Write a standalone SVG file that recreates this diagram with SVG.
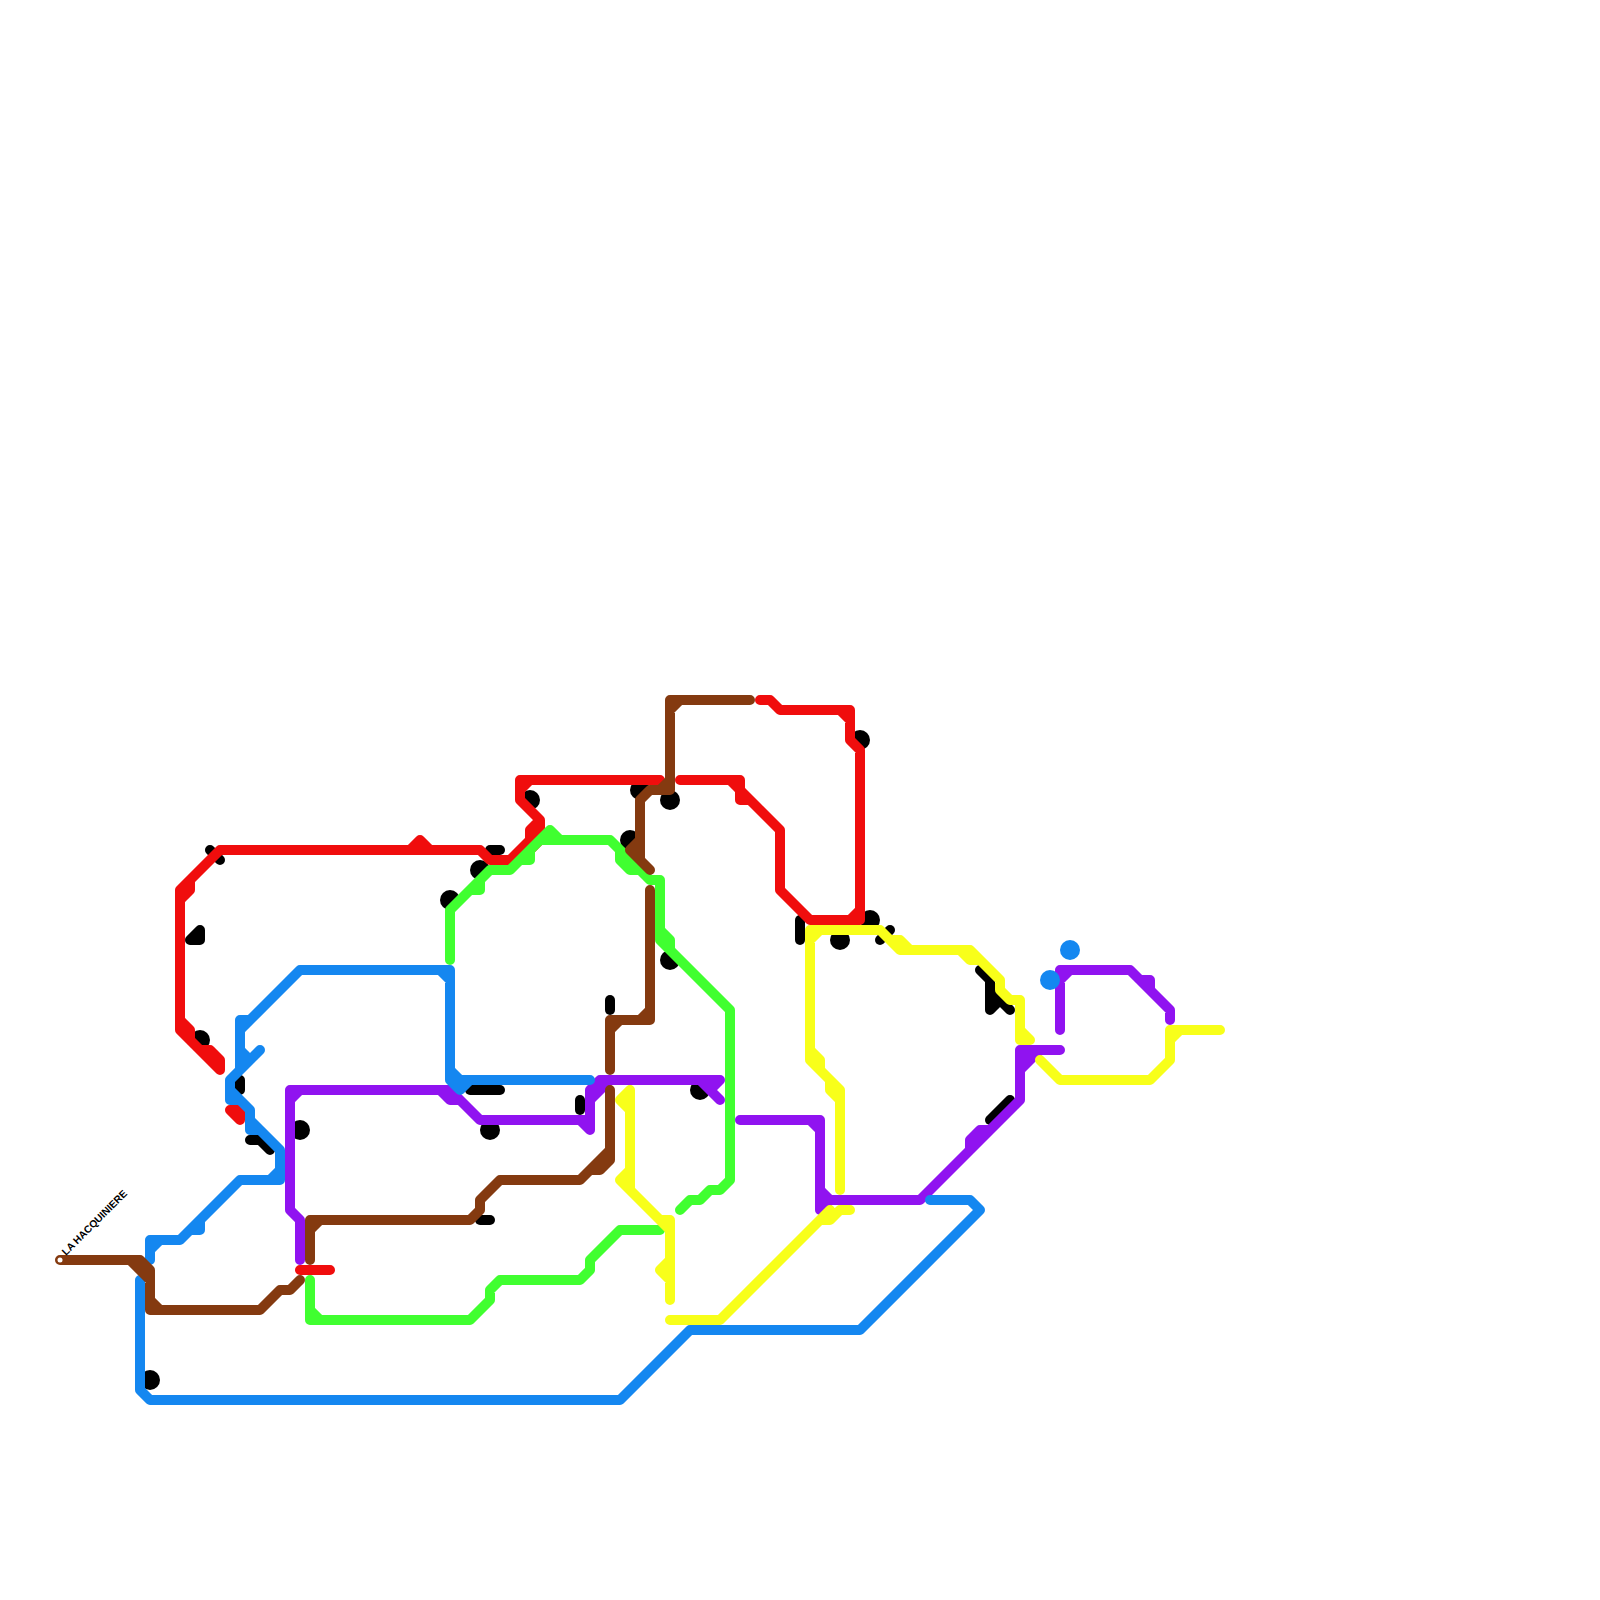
<svg xmlns="http://www.w3.org/2000/svg" width="1600" height="1600" viewBox="0 0 1600 1600">
<style>
.l{fill:none;stroke-width:10;stroke-linecap:round;stroke-linejoin:round}
.k{stroke:#000;fill:#000}.r{stroke:#f00d0d}.p{stroke:#9013f0}.b{stroke:#1487f0}.g{stroke:#40ff30}.n{stroke:#843a10}.y{stroke:#f8ff1a}
.st{fill:#000}.sb{fill:#1487f0}
text{font-family:"Liberation Sans",Arial,sans-serif;font-size:10.2px;font-weight:bold;fill:#000}
</style>
<rect width="1600" height="1600" fill="#fff"/>
<g id="connectors-black">
<path class="l k" d="M210,850L220,860"/>
<path class="l k" d="M190,940L200,930V940Z"/>
<path class="l k" d="M240,1080V1090L230,1090"/>
<path class="l k" style="fill:none" d="M250,1140H260L270,1150"/>
<path class="l k" d="M490,850H500"/>
<path class="l k" d="M470,1090H500"/>
<path class="l k" d="M580,1100V1110"/>
<path class="l k" d="M480,1220H490"/>
<path class="l k" d="M610,1000V1010"/>
<path class="l k" d="M800,920V940"/>
<path class="l k" d="M880,940L890,930"/>
<path class="l k" style="fill:none" d="M980,970L990,980V1010M990,990L1010,1010M990,1010L1000,1000"/>
<path class="l k" d="M990,1120L1010,1100"/>
</g>
<g id="station-200-1040"><circle class="st" cx="200" cy="1040" r="10"/></g>
<g id="station-300-1130"><circle class="st" cx="300" cy="1130" r="10"/></g>
<g id="station-150-1380"><circle class="st" cx="150" cy="1380" r="10"/></g>
<g id="station-450-900"><circle class="st" cx="450" cy="900" r="10"/></g>
<g id="station-480-870"><circle class="st" cx="480" cy="870" r="10"/></g>
<g id="station-530-800"><circle class="st" cx="530" cy="800" r="10"/></g>
<g id="station-490-1130"><circle class="st" cx="490" cy="1130" r="10"/></g>
<g id="station-640-790"><circle class="st" cx="640" cy="790" r="10"/></g>
<g id="station-670-800"><circle class="st" cx="670" cy="800" r="10"/></g>
<g id="station-630-840"><circle class="st" cx="630" cy="840" r="10"/></g>
<g id="station-670-960"><circle class="st" cx="670" cy="960" r="10"/></g>
<g id="station-700-1090"><circle class="st" cx="700" cy="1090" r="10"/></g>
<g id="station-860-740"><circle class="st" cx="860" cy="740" r="10"/></g>
<g id="station-870-920"><circle class="st" cx="870" cy="920" r="10"/></g>
<g id="station-840-940"><circle class="st" cx="840" cy="940" r="10"/></g>
<g id="connectors">
<path id="purple" class="l p" d="M1060,970H1130L1170,1010V1020M1130,970L1140,980H1150V990M1060,970V1030M1060,980L1070,970
M1020,1050H1060M1020,1050V1100L920,1200H830M1020,1070L1040,1050M1020,1060L1030,1050
M970,1150V1140L980,1130H990
M740,1120H820V1210L830,1200M810,1120L820,1130M820,1190L830,1200
M600,1080H720L710,1090M700,1080L720,1100M600,1080L590,1090V1130L580,1120M610,1080L590,1100M590,1120H480L450,1090H290V1210L300,1220V1260M290,1100L300,1090M440,1090L450,1100H460"/>
<path id="red" class="l r" d="M180,890V1030L220,1070V1060L210,1050H200L190,1040V1030L180,1020M210,1050V1060H220M180,890L220,850H480L490,860H510L540,830V820L520,800V780H660M520,790L530,780M410,850L420,840L430,850M180,890L190,880V890L180,900M510,860L520,850H530L540,840M530,840V830L540,820
M230,1110H240V1120ZM300,1270H330
M680,780H740V800H750L780,830V890L810,920H860V750L850,740V710H780L770,700H760M730,780L740,790M740,790L780,830M840,710L850,720M850,920L860,910"/>
<path id="blue" class="l b" d="M140,1280V1390L150,1400H620L690,1330H860L980,1210L970,1200H930
M150,1260V1240H180L240,1180H280V1150L250,1120V1110L230,1090V1080L260,1050M150,1250L160,1240M190,1230H200V1220M270,1180L280,1170
M250,1130H260L280,1150M250,1120V1130M230,1090V1100H240L250,1110
M240,1070V1020H250L300,970H450V1080H590M440,970L450,980M450,1070L460,1080M450,1080L460,1090L470,1080M240,1030L250,1020M240,1050L250,1060"/>
<path id="green" class="l g" d="M450,960V910L490,870H510L520,860H530V850L550,830L560,840M510,870L550,830M540,840H610L620,850V860L630,870H640L650,880H660V930L670,940V950M620,850L650,880M660,940L730,1010V1180L720,1190H710L700,1200H690L680,1210M470,890H480V880M660,930V940
M660,1230H620L590,1260V1270L580,1280H500L490,1290V1300L470,1320H310V1280M310,1310L320,1320"/>
<path id="brown" class="l n" d="M60,1260H140L150,1270V1310H260L280,1290H290L300,1280M130,1260L150,1280M150,1300L160,1310
M750,700H670V790H650L640,800V860L650,870M670,710L680,700M660,790L670,780M640,840L630,850L650,870
M650,890V1020H610V1070M640,1020L650,1010M610,1030L620,1020
M610,1090V1160L600,1170H590L580,1180H500L480,1200V1210L470,1220H310V1260M610,1150L580,1180M600,1160V1170M310,1230L320,1220"/>
<path id="yellow" class="l y" d="M630,1090V1190L660,1220H670V1300M630,1090L620,1100L630,1110M630,1170L620,1180L660,1220M660,1220L670,1230M670,1260L660,1270L670,1280
M670,1320H720L820,1220H830L840,1210H850M820,1220L830,1210
M810,1060V930H880L900,950H970L1000,980V990L1010,1000H1020V1040H1030L1020,1030M810,940L820,930M890,940H900L910,950M960,950L970,960H980
M810,1050L820,1060V1070M810,1060L840,1090V1190M830,1080V1090L840,1100
M1040,1060L1060,1080H1150L1170,1060V1030H1220M1170,1040L1180,1030"/>
</g>
<g id="station-60-1260"><circle cx="60" cy="1260" r="2.5" fill="#fff"/></g>
<g id="station-1070-950"><circle class="sb" cx="1070" cy="950" r="10"/></g>
<g id="station-1050-980"><circle class="sb" cx="1050" cy="980" r="10"/></g>
<g id="labels"><text transform="translate(66,1256) rotate(-45)">LA HACQUINIERE</text></g>
</svg>
